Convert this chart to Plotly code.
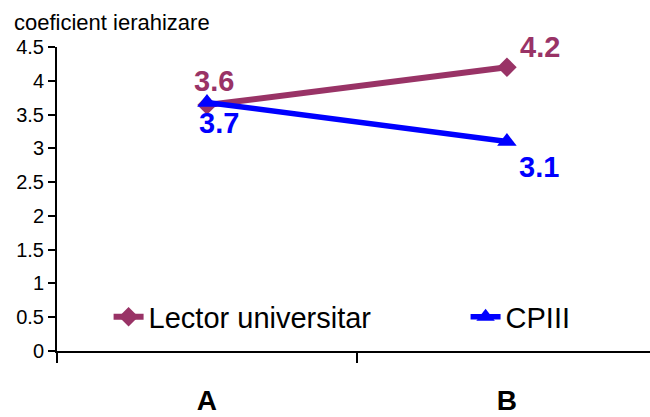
import plotly.graph_objects as go

categories = ["A", "B"]
lector = [3.64, 4.2]
cpiii = [3.68, 3.1]
y_ticks = [0, 0.5, 1, 1.5, 2, 2.5, 3, 3.5, 4, 4.5]
y_tick_labels = ["0", "0.5", "1", "1.5", "2", "2.5", "3", "3.5", "4", "4.5"]

LECTOR_C = "#993366"
CPIII_C = "#0000FF"
FONT = "Liberation Sans, Arial, sans-serif"

fig = go.Figure()
fig.add_trace(go.Scatter(
    x=categories, y=lector, name="Lector universitar", mode="lines+markers",
    line=dict(color=LECTOR_C, width=6),
    marker=dict(symbol="diamond", size=15, color=LECTOR_C),
    cliponaxis=False, legend="legend",
))
fig.add_trace(go.Scatter(
    x=categories, y=cpiii, name="CPIII", mode="lines+markers",
    line=dict(color=CPIII_C, width=5.5),
    marker=dict(symbol="triangle-up", size=17, color=CPIII_C),
    cliponaxis=False, legend="legend2",
))

annotations = [dict(text="coeficient ierahizare", xref="paper", yref="paper",
                    x=-0.076, y=1.082, xanchor="left", yanchor="middle",
                    showarrow=False, font=dict(size=22, color="black", family=FONT))]
lector_shift = [(7, 24), (33, 20)]
cpiii_shift = [(12, -21), (32, -25)]
for cat, v, (dx, dy) in zip(categories, lector, lector_shift):
    annotations.append(dict(x=cat, y=v, xref="x", yref="y", text=f"{v:.1f}",
                            showarrow=False, xshift=dx, yshift=dy,
                            font=dict(size=29, color=LECTOR_C, family=FONT, weight="bold")))
for cat, v, (dx, dy) in zip(categories, cpiii, cpiii_shift):
    annotations.append(dict(x=cat, y=v, xref="x", yref="y", text=f"{v:.1f}",
                            showarrow=False, xshift=dx, yshift=dy,
                            font=dict(size=29, color=CPIII_C, family=FONT, weight="bold")))

legend_common = dict(orientation="h", y=0.112, xanchor="left", yanchor="middle",
                     font=dict(size=29, color="black"), bgcolor="rgba(0,0,0,0)",
                     borderwidth=0)

fig.update_layout(
    width=650, height=417,
    margin=dict(l=57, r=0, t=47, b=66),
    paper_bgcolor="white", plot_bgcolor="white",
    font=dict(family=FONT, color="black"),
    showlegend=True,
    legend=dict(x=0.087, **legend_common),
    legend2=dict(x=0.689, **legend_common),
    annotations=annotations,
)
fig.update_xaxes(
    type="category", range=[-0.5, 1.477], showgrid=False, zeroline=False,
    showline=True, linecolor="black", linewidth=2, automargin=False,
    ticks="outside", tickson="boundaries", ticklen=10, tickcolor="black", tickwidth=2,
    tickfont=dict(size=28, color="black", weight="bold"), ticklabelstandoff=23,
)
fig.update_yaxes(
    range=[0, 4.5], tickvals=y_ticks, ticktext=y_tick_labels, showgrid=False,
    zeroline=False, showline=True, linecolor="black", linewidth=2, automargin=False,
    ticks="outside", ticklen=7, tickcolor="black", tickwidth=2,
    tickfont=dict(size=20, color="black"),
)

fig.write_html(
    "out.html",
    config={"displayModeBar": False},
    post_script="document.body.style.margin='0';document.body.style.overflow='hidden';",
)
